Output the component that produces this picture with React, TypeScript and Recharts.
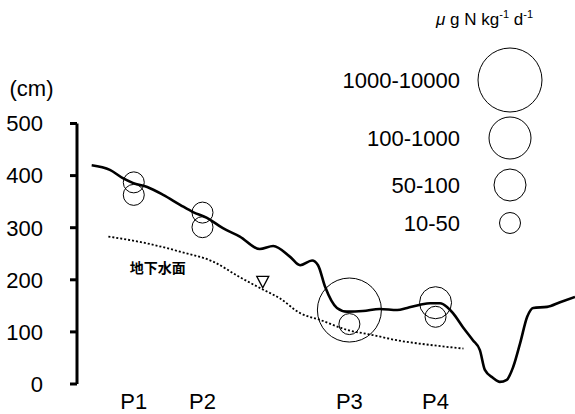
import React from 'react';
import { ComposedChart, Line, Scatter, XAxis, YAxis, Legend, ReferenceDot } from 'recharts';

// 地形断面 (d: 横断距離 0-100, v: 標高 cm)
const terrainD = [2.95, 6.6, 9.2, 11.2, 14.1, 17.3, 20.7, 23.3, 26.1, 29.3, 32.7, 36.7, 39.4, 42.8, 44.8, 47.2, 48.4, 49.8, 52.2, 54.2, 57.4, 60.8, 64.3, 66.3, 68.9, 70.9, 72.9, 74.3, 75.5, 77.5, 79.5, 80.9, 81.9, 83.5, 84.9, 86.3, 87.6, 89.0, 90.4, 91.6, 94.4, 97.0, 100];
const terrainV = [420, 411, 395, 386, 378, 363, 344, 330, 319, 299, 283, 259, 265, 244, 228, 237, 228, 187, 146, 139, 140, 144, 142, 146, 152, 155, 155, 148, 136, 109, 84, 65, 27, 12, 4, 8, 33, 79, 129, 146, 148, 157, 167];

// 地下水面
const waterD = [6.3, 14.0, 20.7, 27.3, 32.7, 37.2, 40.8, 44.8, 48.8, 54.2, 59.4, 64.2, 70.9, 77.6];
const waterV = [283, 270, 254, 235, 205, 182, 164, 136, 123, 104, 94, 84, 75, 68];

// 調査地点
const siteNames = ['P1', 'P2', 'P3', 'P4'];
const siteD = [11.4, 25.2, 54.7, 72.0];

// 測定値: 地点, 深さ(cm), 速度クラス
const sampleSite = [0, 0, 1, 1, 2, 2, 3, 3];
const sampleV = [387, 363, 329, 301, 142, 115, 156, 129];
const sampleClass = [0, 0, 0, 0, 3, 0, 1, 0];

const sizeClasses = ['10-50', '50-100', '100-1000', '1000-10000'];
const yTicks = [0, 100, 200, 300, 400, 500];

// 観測地下水位 ▽
const wellD = [37.3];
const wellV = [196];

const RADII = [10.5, 16, 21, 32];
const LEGEND_Y = [223, 185, 138, 80];
const FONT = '"Liberation Sans", Arial, sans-serif';

const terrain = terrainD.map((d, i) => ({ d, v: terrainV[i] }));
const water = waterD.map((d, i) => ({ d, v: waterV[i] }));
const samples = sampleV.map((v, i) => ({ d: siteD[sampleSite[i]], v, cls: sampleClass[i] }));
const well = wellD.map((d, i) => ({ d, v: wellV[i] }));

function Bubble(props: any) {
  const { cx, cy, payload } = props;
  return <circle cx={cx} cy={cy} r={RADII[payload.cls]} fill="none" stroke="#000" strokeWidth={1} />;
}

function Triangle(props: any) {
  const { cx, cy } = props;
  return (
    <polygon
      points={`${cx - 6},${cy - 5.5} ${cx + 6},${cy - 5.5} ${cx},${cy + 6}`}
      fill="#fff"
      stroke="#000"
      strokeWidth={1.3}
    />
  );
}

function SizeLegend() {
  return (
    <svg width={575} height={240} style={{ display: 'block' }}>
      <text x={31.5} y={96} textAnchor="middle" fontSize={22} fontFamily={FONT} fill="#000">(cm)</text>
      <text x={533} y={25} textAnchor="end" fontSize={17} fontFamily={FONT} fill="#000">
        <tspan fontStyle="italic">μ</tspan>
        <tspan> g N kg</tspan>
        <tspan fontSize={11} dy={-7}>-1</tspan>
        <tspan dy={7}> d</tspan>
        <tspan fontSize={11} dy={-7}>-1</tspan>
      </text>
      {sizeClasses.map((name, i) => (
        <g key={name}>
          <text x={460} y={LEGEND_Y[i] + 7.9} textAnchor="end" fontSize={22} fontFamily={FONT} fill="#000">
            {name}
          </text>
          <circle cx={510} cy={LEGEND_Y[i]} r={RADII[i]} fill="none" stroke="#000" strokeWidth={1} />
        </g>
      ))}
    </svg>
  );
}

export default function App() {
  return (
    <div style={{ position: 'absolute', left: 0, top: 0, width: 575, height: 414, background: '#fff' }}>
      <ComposedChart width={575} height={414} margin={{ top: 123.5, right: 0, bottom: 0, left: 0 }}>
        <XAxis
          type="number"
          dataKey="d"
          domain={[0, 100]}
          ticks={siteD}
          tickFormatter={(t: number) => siteNames[siteD.indexOf(t)] ?? ''}
          axisLine={false}
          tickLine={false}
          tickSize={0}
          tickMargin={9}
          height={30}
          tick={{ fontSize: 22, fontFamily: FONT, fill: '#000' }}
          allowDataOverflow
        />
        <YAxis
          type="number"
          domain={[0, 500]}
          ticks={yTicks}
          width={77}
          tickSize={7}
          tickMargin={27}
          axisLine={{ stroke: '#000', strokeWidth: 3 }}
          tickLine={{ stroke: '#000', strokeWidth: 3 }}
          tick={{ fontSize: 22, fontFamily: FONT, fill: '#000' }}
        />
        <Line
          data={water}
          dataKey="v"
          type="monotone"
          stroke="#000"
          strokeWidth={1.8}
          strokeDasharray="2 2"
          dot={false}
          isAnimationActive={false}
        />
        <Line
          data={terrain}
          dataKey="v"
          type="monotone"
          stroke="#000"
          strokeWidth={2.6}
          dot={false}
          isAnimationActive={false}
        />
        <Scatter data={samples} dataKey="v" shape={Bubble} isAnimationActive={false} />
        <Scatter data={well} dataKey="v" shape={Triangle} isAnimationActive={false} />
        <ReferenceDot
          x={16.2}
          y={222}
          r={0}
          fill="none"
          stroke="none"
          label={{ value: '地下水面', position: 'center', fontSize: 14, fontWeight: 'bold', fontFamily: '"Noto Sans CJK JP", sans-serif', fill: '#000' }}
        />
        <Legend
          layout="vertical"
          align="center"
          verticalAlign="middle"
          content={SizeLegend}
          wrapperStyle={{ position: 'absolute', left: 0, top: 0, width: 575, height: 240 }}
        />
      </ComposedChart>
    </div>
  );
}
